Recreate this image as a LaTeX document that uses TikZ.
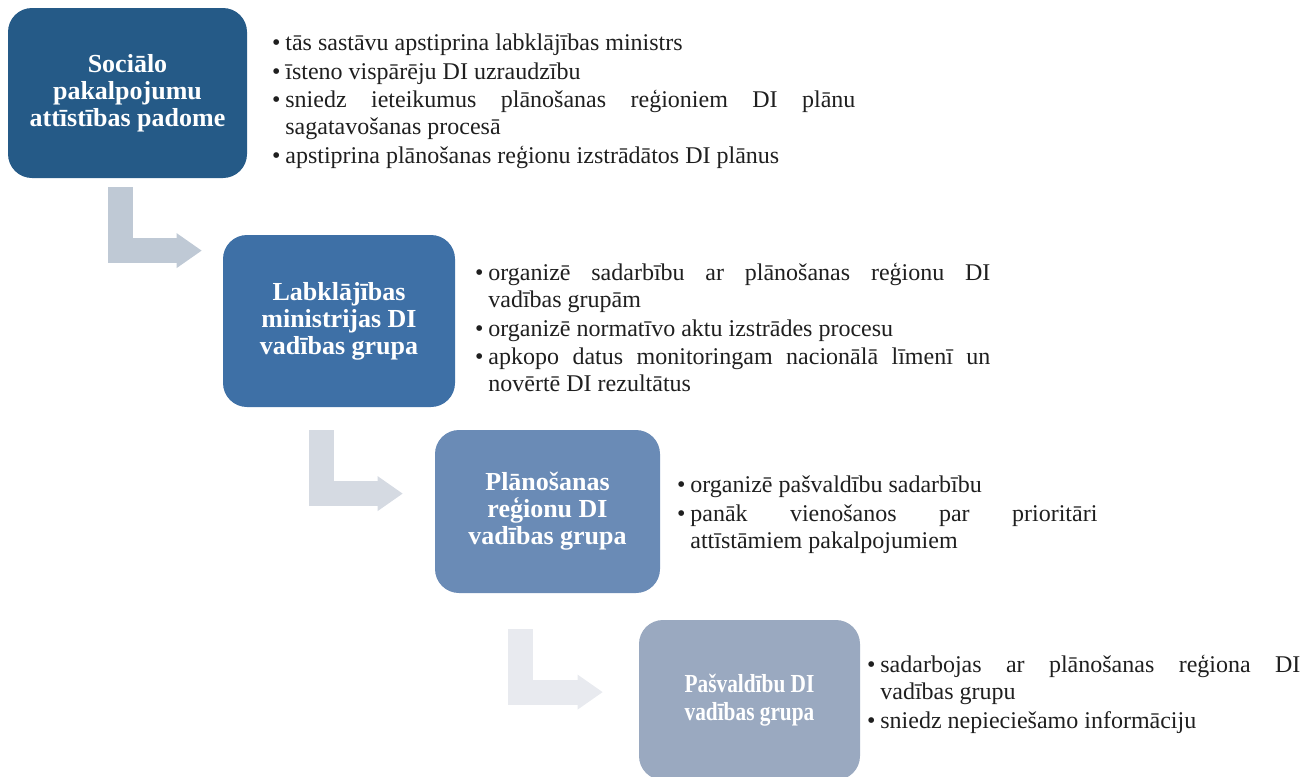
\documentclass[tikz,border=0pt]{standalone}
\usepackage{fontspec}
\setmainfont{Liberation Serif}
\newfontfamily\narrowserif{Liberation Serif}[FakeStretch=0.82]
\usetikzlibrary{arrows.meta}
\definecolor{boxA}{RGB}{37,90,135}
\definecolor{boxB}{RGB}{62,112,166}
\definecolor{boxC}{RGB}{106,139,182}
\definecolor{boxD}{RGB}{154,169,192}
\definecolor{arrA}{RGB}{191,201,213}
\definecolor{arrB}{RGB}{213,218,226}
\definecolor{arrC}{RGB}{232,234,239}
\def\listset{\parskip=0.75pt\relax\hyphenpenalty=10000\relax\tolerance=9999\relax}
\def\bul{\par\noindent\llap{\textbullet\hspace{2.5pt}}}

\begin{document}
\begin{tikzpicture}
    [x=0.5pt,y=-0.5pt,
    block/.style={
      rectangle,
      rounded corners=12pt,
      text=white,
      align=center,
      inner sep=0pt,
      font=\fontsize{13}{13.5}\selectfont\bfseries
    },
    block1/.style={block, fill=boxA, minimum width=119.5pt, minimum height=85pt},
    block2/.style={block, fill=boxB, minimum width=116pt, minimum height=86pt},
    block3/.style={block, fill=boxC, minimum width=112.5pt, minimum height=81.5pt},
    block4/.style={block, fill=boxD, minimum width=110.5pt, minimum height=80pt,
      font=\fontsize{13}{14}\selectfont\narrowserif\bfseries},
    list/.style={
      anchor=north west,
      inner sep=0pt,
      align=justify,
      text=black!88,
      font=\fontsize{12}{13.5}\selectfont
    },
    line/.style={
      draw,
      line width=12.5pt,
      -{Triangle[length=12.5pt,width=17.5pt,line width=0pt]}
    }
  ]
    \useasboundingbox (0,0) rectangle (1305,776);
    \clip (0,0) rectangle (1305,776);
    \draw (127.5,93) node[block1] (A) {Sociālo\\pakalpojumu\\attīstības padome};
    \draw (339,321) node[block2] (B) {Labklājības\\ministrijas DI\\vadības grupa};
    \draw (547.5,511.5) node[block3] (C) {Plānošanas\\reģionu DI\\vadības grupa};
    \draw (749.5,700) node[block4] (D) {Pašvaldību DI\\vadības grupa};
    \path (285,22) node[list, text width=285pt] (LIST1) {\listset
        \bul tās sastāvu apstiprina labklājības ministrs
        \bul īsteno vispārēju DI uzraudzību
        \bul sniedz ieteikumus plānošanas reģioniem DI plānu\linebreak sagatavošanas procesā
        \bul apstiprina plānošanas reģionu izstrādātos DI plānus}
          (488,252) node[list, text width=251pt] (LIST2) {\listset
        \bul organizē sadarbību ar plānošanas reģionu DI\linebreak vadības grupām
        \bul organizē normatīvo aktu izstrādes procesu
        \bul apkopo datus monitoringam nacionālā līmenī un\linebreak novērtē DI rezultātus}
          (690,464) node[list, text width=203.5pt] (LIST3) {\listset
        \bul organizē pašvaldību sadarbību
        \bul panāk vienošanos par prioritāri\linebreak attīstāmiem pakalpojumiem}
          (880,644) node[list, text width=210pt] (LIST4) {\listset
        \bul sadarbojas ar plānošanas reģiona DI\linebreak vadības grupu
        \bul sniedz nepieciešamo informāciju};
    \draw[line, arrA, shorten <=4.5pt, shorten >=10.5pt] ([xshift=-3.75pt]A.south) |- ([yshift=-8pt]B.north west);
    \draw[line, arrB, shorten <=11.5pt, shorten >=16pt] ([xshift=-9pt]B.south) |- ([yshift=-32pt]C.north west);
    \draw[line, arrC, shorten <=18pt, shorten >=18pt] ([xshift=-13.5pt]C.south) |- ([yshift=-36.25pt]D.north west);
\end{tikzpicture}
\end{document}
